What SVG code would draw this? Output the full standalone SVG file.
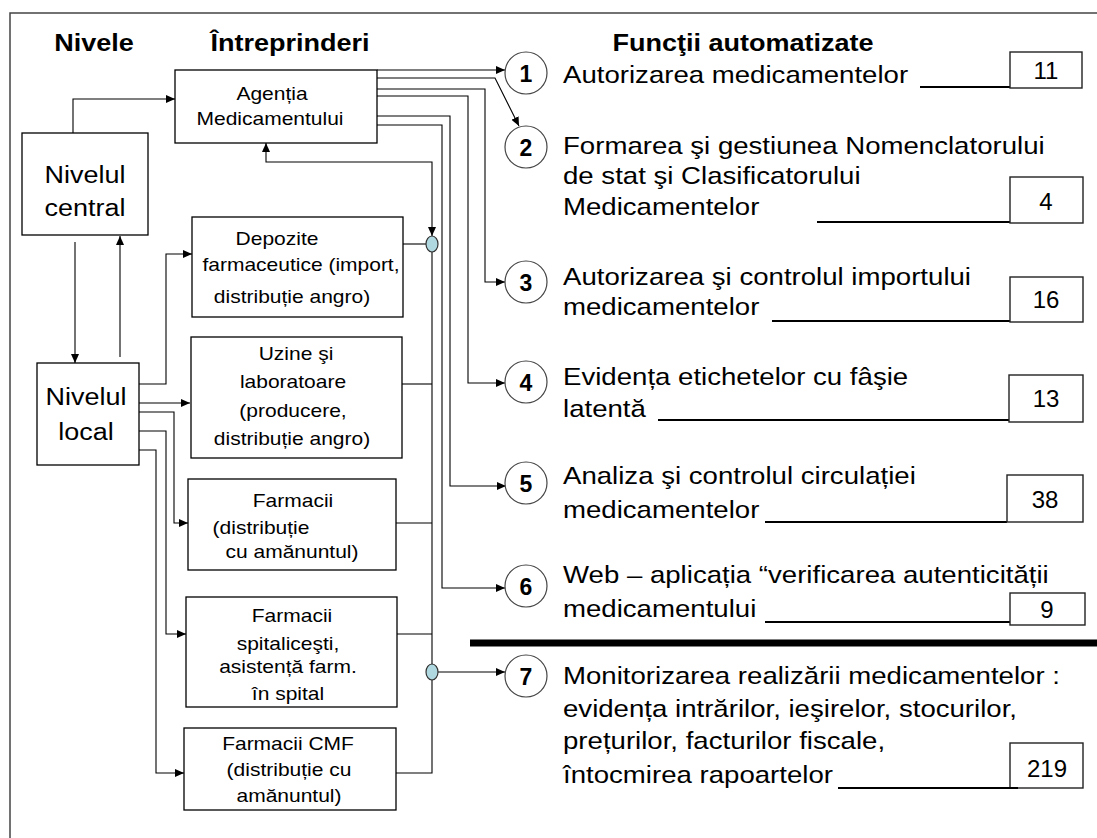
<svg xmlns="http://www.w3.org/2000/svg" width="1097" height="838" viewBox="0 0 1097 838">
<style>
text{font-family:"Liberation Sans",Arial,sans-serif;fill:#000}
.hd{font-size:23.5px;font-weight:bold;text-anchor:middle}
.bx{font-size:17.5px;text-anchor:middle}
.lv{font-size:24.5px;text-anchor:middle}
.fn{font-size:24px}
.num{font-size:23px;font-weight:bold;text-anchor:middle}
.val{font-size:24px;text-anchor:middle}
.box{fill:#fff;stroke:#000;stroke-width:1.3}
.nbox{fill:#fff;stroke:#222;stroke-width:1.4}
.circ{fill:#fff;stroke:#444;stroke-width:1.2}
.hub{fill:#b0d8e0;stroke:#333;stroke-width:1.2}
.ln{fill:none;stroke:#000;stroke-width:1.1}
.ul{fill:none;stroke:#000;stroke-width:2}
</style>
<defs>
<marker id="ar" viewBox="0 0 9 8" refX="9" refY="4" markerWidth="9" markerHeight="8" markerUnits="userSpaceOnUse" orient="auto-start-reverse">
<path d="M0,0 L9,4 L0,8 z" fill="#000"/>
</marker>
</defs>
<rect x="0" y="0" width="1097" height="838" fill="#fff"/>
<path d="M10,838 V13 H1097" fill="none" stroke="#444" stroke-width="1.5"/>

<g id="headers">
<text class="hd" transform="translate(94 51) scale(1.15 1)">Nivele</text>
<text class="hd" transform="translate(290 51) scale(1.15 1)">Întreprinderi</text>
<text class="hd" transform="translate(743 51) scale(1.15 1)">Funcţii automatizate</text>
</g>

<g id="connectors">
<path class="ln" d="M73,133 V99 H175" marker-end="url(#ar)"/>
<path class="ln" d="M75,242 V363" marker-end="url(#ar)"/>
<path class="ln" d="M120,357 V236" marker-end="url(#ar)"/>
<path class="ln" d="M139,384 H166 V254 H192" marker-end="url(#ar)"/>
<path class="ln" d="M139,403 H190" marker-end="url(#ar)"/>
<path class="ln" d="M139,412 H174 V523 H188" marker-end="url(#ar)"/>
<path class="ln" d="M139,431 H166 V634 H186" marker-end="url(#ar)"/>
<path class="ln" d="M139,450 H156 V773 H184" marker-end="url(#ar)"/>
<path class="ln" d="M377,70 H505" marker-end="url(#ar)"/>
<path class="ln" d="M377,78 H495 L519,126" marker-end="url(#ar)"/>
<path class="ln" d="M377,89 H485 V282 H505" marker-end="url(#ar)"/>
<path class="ln" d="M377,96 H468 V383 H505" marker-end="url(#ar)"/>
<path class="ln" d="M377,116 H450 V486 H506" marker-end="url(#ar)"/>
<path class="ln" d="M377,125 H442 V588 H505" marker-end="url(#ar)"/>
<path class="ln" d="M432,236 V162 H266 V143" marker-start="url(#ar)" marker-end="url(#ar)"/>
<path class="ln" d="M403,244 H426"/>
<path class="ln" d="M402,384 H432"/>
<path class="ln" d="M396,523 H432"/>
<path class="ln" d="M397,634 H432"/>
<path class="ln" d="M396,773 H432 V252"/>
<path class="ln" d="M438,672 H505" marker-end="url(#ar)"/>
<path d="M470,643 H1097" stroke="#000" stroke-width="7"/>
</g>

<g id="hub1"><ellipse class="hub" cx="432" cy="244" rx="6" ry="8"/></g>
<g id="hub2"><ellipse class="hub" cx="432" cy="672" rx="6" ry="8"/></g>

<g id="agentia">
<rect class="box" x="175" y="70" width="202" height="73"/>
<text class="bx" transform="translate(272 100) scale(1.2 1)">Agenția</text>
<text class="bx" transform="translate(270 125) scale(1.2 1)">Medicamentului</text>
</g>

<g id="central">
<rect class="box" x="22" y="133" width="126" height="102"/>
<text class="lv" transform="translate(85 183) scale(1.1 1)">Nivelul</text>
<text class="lv" transform="translate(85 216) scale(1.1 1)">central</text>
</g>

<g id="local">
<rect class="box" x="37" y="363" width="102" height="102"/>
<text class="lv" transform="translate(86 405) scale(1.1 1)">Nivelul</text>
<text class="lv" transform="translate(86 440) scale(1.1 1)">local</text>
</g>

<g id="depozite">
<rect class="box" x="192" y="217" width="211" height="100"/>
<text class="bx" transform="translate(277 245) scale(1.2 1)">Depozite</text>
<text class="bx" transform="translate(301 271) scale(1.2 1)">farmaceutice (import,</text>
<text class="bx" transform="translate(292 303) scale(1.2 1)">distribuție angro)</text>
</g>

<g id="uzine">
<rect class="box" x="191" y="337" width="211" height="121"/>
<text class="bx" transform="translate(296 360) scale(1.2 1)">Uzine şi</text>
<text class="bx" transform="translate(293 388) scale(1.2 1)">laboratoare</text>
<text class="bx" transform="translate(293 417) scale(1.2 1)">(producere,</text>
<text class="bx" transform="translate(292 445) scale(1.2 1)">distribuție angro)</text>
</g>

<g id="farmacii">
<rect class="box" x="188" y="479" width="208" height="91"/>
<text class="bx" transform="translate(293 507) scale(1.2 1)">Farmacii</text>
<text class="bx" transform="translate(261 534) scale(1.2 1)">(distribuție</text>
<text class="bx" transform="translate(292 558) scale(1.2 1)">cu amănuntul)</text>
</g>

<g id="spital">
<rect class="box" x="186" y="597" width="211" height="110"/>
<text class="bx" transform="translate(292 622) scale(1.2 1)">Farmacii</text>
<text class="bx" transform="translate(288 650) scale(1.2 1)">spitaliceşti,</text>
<text class="bx" transform="translate(288 673) scale(1.2 1)">asistență farm.</text>
<text class="bx" transform="translate(288 700) scale(1.2 1)">în spital</text>
</g>

<g id="cmf">
<rect class="box" x="184" y="728" width="212" height="82"/>
<text class="bx" transform="translate(288 750) scale(1.2 1)">Farmacii CMF</text>
<text class="bx" transform="translate(289 776) scale(1.2 1)">(distribuție cu</text>
<text class="bx" transform="translate(289 802) scale(1.2 1)">amănuntul)</text>
</g>

<g id="f1">
<circle class="circ" cx="526" cy="73" r="21"/>
<text class="num" x="526" y="82">1</text>
<text class="fn" transform="translate(563 83) scale(1.15 1)">Autorizarea medicamentelor</text>
<path class="ul" d="M920,87 H1010"/>
<rect class="nbox" x="1010" y="52" width="72" height="36"/>
<text class="val" x="1046" y="79">11</text>
</g>

<g id="f2">
<circle class="circ" cx="526" cy="147" r="21"/>
<text class="num" x="526" y="156">2</text>
<text class="fn" transform="translate(563 154) scale(1.15 1)">Formarea şi gestiunea Nomenclatorului</text>
<text class="fn" transform="translate(563 184) scale(1.15 1)">de stat şi Clasificatorului</text>
<text class="fn" transform="translate(563 215) scale(1.15 1)">Medicamentelor</text>
<path class="ul" d="M817,222 H1010"/>
<rect class="nbox" x="1010" y="177" width="73" height="46"/>
<text class="val" x="1046" y="210">4</text>
</g>

<g id="f3">
<circle class="circ" cx="526" cy="282" r="21"/>
<text class="num" x="526" y="291">3</text>
<text class="fn" transform="translate(563 285) scale(1.15 1)">Autorizarea şi controlul importului</text>
<text class="fn" transform="translate(563 315) scale(1.15 1)">medicamentelor</text>
<path class="ul" d="M772,321 H1010"/>
<rect class="nbox" x="1010" y="277" width="73" height="45"/>
<text class="val" x="1046" y="308">16</text>
</g>

<g id="f4">
<circle class="circ" cx="526" cy="382" r="21"/>
<text class="num" x="526" y="391">4</text>
<text class="fn" transform="translate(563 385) scale(1.15 1)">Evidența etichetelor cu fâşie</text>
<text class="fn" transform="translate(563 417) scale(1.15 1)">latentă</text>
<path class="ul" d="M658,420 H1010"/>
<rect class="nbox" x="1009" y="375" width="74" height="47"/>
<text class="val" x="1046" y="407">13</text>
</g>

<g id="f5">
<circle class="circ" cx="526" cy="483" r="21"/>
<text class="num" x="526" y="492">5</text>
<text class="fn" transform="translate(563 484) scale(1.15 1)">Analiza şi controlul circulației</text>
<text class="fn" transform="translate(563 518) scale(1.15 1)">medicamentelor</text>
<path class="ul" d="M765,522 H1007"/>
<rect class="nbox" x="1007" y="475" width="76" height="47"/>
<text class="val" x="1045" y="508">38</text>
</g>

<g id="f6">
<circle class="circ" cx="526" cy="586" r="21"/>
<text class="num" x="526" y="595">6</text>
<text class="fn" transform="translate(563 583) scale(1.15 1)">Web – aplicația “verificarea autenticității</text>
<text class="fn" transform="translate(563 617) scale(1.15 1)">medicamentului</text>
<path class="ul" d="M765,622 H1010"/>
<rect class="nbox" x="1010" y="593" width="75" height="32"/>
<text class="val" x="1047" y="618">9</text>
</g>

<g id="f7">
<circle class="circ" cx="526" cy="676" r="21"/>
<text class="num" x="526" y="685">7</text>
<text class="fn" transform="translate(563 684) scale(1.15 1)">Monitorizarea realizării medicamentelor :</text>
<text class="fn" transform="translate(563 717) scale(1.15 1)">evidența intrărilor, ieşirelor, stocurilor,</text>
<text class="fn" transform="translate(563 749) scale(1.15 1)">prețurilor, facturilor fiscale,</text>
<text class="fn" transform="translate(563 783) scale(1.15 1)">întocmirea rapoartelor</text>
<rect class="nbox" x="1010" y="743" width="73" height="45"/>
<path class="ul" d="M838,788 H1018"/>
<text class="val" x="1047" y="777">219</text>
</g>
</svg>
